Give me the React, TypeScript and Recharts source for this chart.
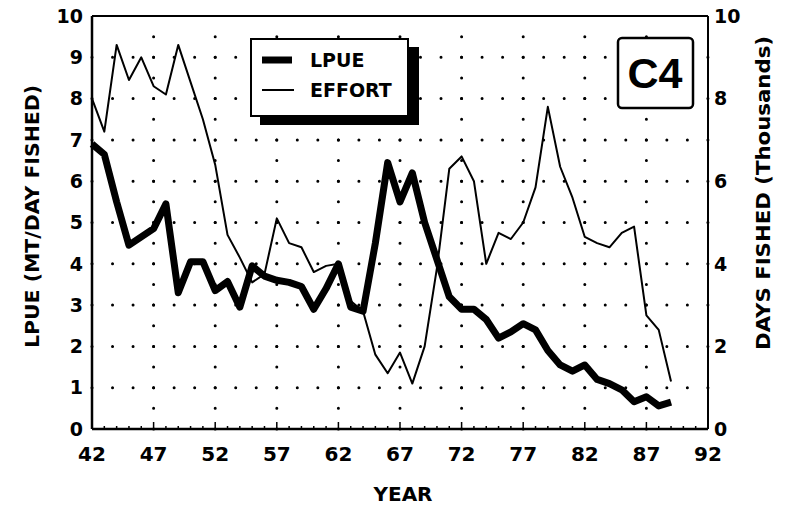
import React from 'react';
import { LineChart, Line, XAxis, YAxis, ReferenceLine } from 'recharts';

const years = [42, 43, 44, 45, 46, 47, 48, 49, 50, 51, 52, 53, 54, 55, 56, 57, 58, 59, 60, 61, 62, 63, 64, 65, 66, 67, 68, 69, 70, 71, 72, 73, 74, 75, 76, 77, 78, 79, 80, 81, 82, 83, 84, 85, 86, 87, 88, 89];
const lpue = [6.9, 6.65, 5.5, 4.45, 4.65, 4.85, 5.45, 3.3, 4.05, 4.05, 3.35, 3.57, 2.95, 3.95, 3.7, 3.6, 3.55, 3.45, 2.9, 3.4, 4.0, 2.95, 2.85, 4.5, 6.45, 5.5, 6.2, 5.0, 4.1, 3.2, 2.9, 2.9, 2.65, 2.2, 2.35, 2.55, 2.4, 1.9, 1.55, 1.4, 1.55, 1.2, 1.1, 0.95, 0.66, 0.78, 0.56, 0.65];
const effort = [8.0, 7.2, 9.3, 8.45, 9.0, 8.3, 8.1, 9.3, 8.4, 7.5, 6.4, 4.7, 4.15, 3.55, 3.75, 5.1, 4.5, 4.4, 3.8, 3.95, 4.0, 3.1, 2.85, 1.8, 1.35, 1.85, 1.1, 2.0, 3.9, 6.3, 6.6, 6.0, 4.0, 4.75, 4.6, 5.0, 5.85, 7.8, 6.35, 5.6, 4.65, 4.5, 4.4, 4.75, 4.9, 2.75, 2.4, 1.15];

const xMajorTicks = [42, 47, 52, 57, 62, 67, 72, 77, 82, 87, 92];
const xAllTicks = Array.from({ length: 51 }, (_, i) => 42 + i);
const leftTicks = [0, 1, 2, 3, 4, 5, 6, 7, 8, 9, 10];
const rightTicks = [0, 2, 4, 6, 8, 10];
const hGrid = [1, 2, 3, 4, 5, 6, 7, 8, 9];
const vGrid = [47, 52, 57, 62, 67, 72, 77, 82, 87];

const rows = years.map((y, i) => ({ year: y, lpue: lpue[i], effort: effort[i] }));

const FONT = '"DejaVu Sans", "Liberation Sans", Arial, sans-serif';

const XTick = (props: any) => {
  const { x, y, payload } = props;
  const v = payload.value as number;
  const major = xMajorTicks.includes(v);
  return (
    <g>
      <line x1={x} x2={x} y1={y} y2={y - (major ? 7 : 3)} stroke="#000" strokeWidth={1.5} />
      {major && (
        <text x={x} y={y + 32} textAnchor="middle" fontFamily={FONT} fontWeight="bold" fontSize={20} fill="#000">
          {v}
        </text>
      )}
    </g>
  );
};

export default function App() {
  return (
    <div style={{ position: 'absolute', left: 0, top: 0, width: 792, height: 509, background: '#fff' }}>
      <LineChart width={792} height={509} data={rows} margin={{ top: 16, right: 24, bottom: 30, left: 0 }}>
        <XAxis
          dataKey="year"
          type="number"
          domain={[42, 92]}
          ticks={xAllTicks}
          interval={0}
          tick={<XTick />}
          tickLine={false}
          tickSize={0}
          tickMargin={0}
          height={50}
          axisLine={{ stroke: '#000', strokeWidth: 2.5 }}
        />
        <YAxis
          yAxisId="left"
          domain={[0, 10]}
          ticks={leftTicks}
          interval={0}
          width={92}
          tickLine={false}
          tickSize={0}
          tickMargin={9}
          axisLine={{ stroke: '#000', strokeWidth: 2.5 }}
          tick={{ fill: '#000', fontSize: 19, fontWeight: 'bold', fontFamily: FONT }}
        />
        <YAxis
          yAxisId="right"
          orientation="right"
          domain={[0, 10]}
          ticks={rightTicks}
          interval={0}
          width={60}
          tickLine={false}
          tickSize={0}
          tickMargin={6}
          axisLine={{ stroke: '#000', strokeWidth: 2 }}
          tick={{ fill: '#000', fontSize: 19, fontWeight: 'bold', fontFamily: FONT }}
        />
        {hGrid.map((v) => (
          <ReferenceLine
            key={'h' + v}
            yAxisId="left"
            y={v}
            stroke="#000"
            strokeWidth={3}
            strokeLinecap="round"
            strokeDasharray="0.01 20.52"
          />
        ))}
        {vGrid.map((v) => (
          <ReferenceLine
            key={'v' + v}
            yAxisId="left"
            x={v}
            stroke="#000"
            strokeWidth={3}
            strokeLinecap="round"
            strokeDasharray="0.01 20.64"
          />
        ))}
        <ReferenceLine yAxisId="left" y={10} stroke="#000" strokeWidth={2} />
        <Line
          yAxisId="right"
          dataKey="effort"
          type="linear"
          stroke="#000"
          strokeWidth={2}
          dot={false}
          strokeLinejoin="round"
          isAnimationActive={false}
        />
        <Line
          yAxisId="left"
          dataKey="lpue"
          type="linear"
          stroke="#000"
          strokeWidth={7}
          dot={false}
          strokeLinejoin="round"
          isAnimationActive={false}
        />
      </LineChart>
      <svg width={792} height={509} style={{ position: 'absolute', left: 0, top: 0, pointerEvents: 'none' }}>
        {/* Legend with drop shadow */}
        <rect x={260} y={47} width={159} height={78} fill="#000" />
        <rect x={251} y={39} width={157} height={77} fill="#fff" stroke="#000" strokeWidth={2} />
        <line x1={262} x2={292} y1={60} y2={60} stroke="#000" strokeWidth={7} />
        <text x={310} y={67} fontFamily={FONT} fontWeight="bold" fontSize={19} fill="#000">LPUE</text>
        <line x1={262} x2={294} y1={90} y2={90} stroke="#000" strokeWidth={2} />
        <text x={310} y={97} fontFamily={FONT} fontWeight="bold" fontSize={19} fill="#000">EFFORT</text>
        {/* Panel tag */}
        <rect x={618} y={38} width={75} height={70} rx={4} ry={4} fill="#fff" stroke="#000" strokeWidth={2.5} />
        <text x={655} y={88} textAnchor="middle" fontFamily='"Liberation Sans", Arial, sans-serif' fontWeight="bold" fontSize={43} fill="#000">C4</text>
        {/* Axis titles */}
        <text
          x={0}
          y={0}
          transform="translate(38.5,216.5) rotate(-90)"
          textAnchor="middle"
          fontFamily={FONT}
          fontWeight="bold"
          fontSize={20}
          fill="#000"
          textLength={263}
          lengthAdjust="spacingAndGlyphs"
        >
          LPUE (MT/DAY FISHED)
        </text>
        <text
          x={0}
          y={0}
          transform="translate(770,193) rotate(-90)"
          textAnchor="middle"
          fontFamily={FONT}
          fontWeight="bold"
          fontSize={19}
          fill="#000"
          textLength={314}
          lengthAdjust="spacingAndGlyphs"
        >
          DAYS FISHED (Thousands)
        </text>
        <text x={403} y={501} textAnchor="middle" fontFamily={FONT} fontWeight="bold" fontSize={20} fill="#000">
          YEAR
        </text>
      </svg>
    </div>
  );
}
